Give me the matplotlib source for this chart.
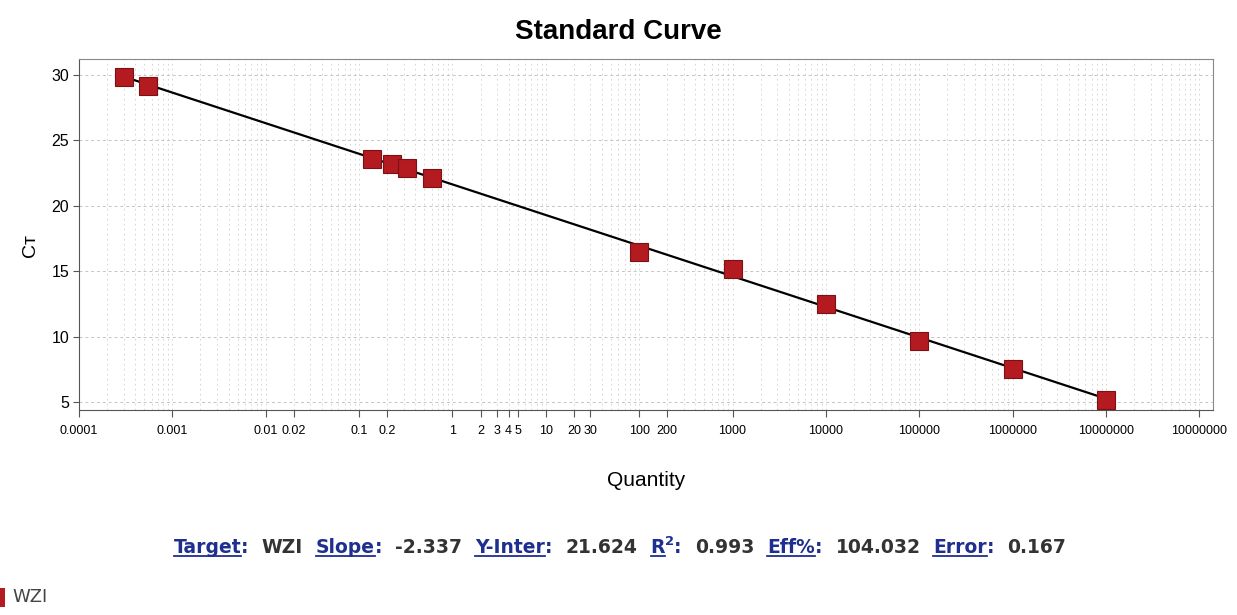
import numpy as np
import matplotlib
matplotlib.use("Agg")
import matplotlib.pyplot as plt
from matplotlib.ticker import FixedLocator, FixedFormatter, LogLocator, NullFormatter
from matplotlib.lines import Line2D

# ---- data ----
quantity = [0.0003, 0.00055, 0.136, 0.223, 0.33, 0.61, 100, 1000, 10000, 100000, 1000000, 10000000]
ct = [29.85, 29.15, 23.6, 23.15, 22.85, 22.15, 16.5, 15.15, 12.5, 9.7, 7.55, 5.2]

tick_pos = [1e-4, 1e-3, 0.01, 0.02, 0.1, 0.2, 1, 2, 3, 4, 5, 10, 20, 30, 100, 200,
            1e3, 1e4, 1e5, 1e6, 1e7, 1e8]
tick_lab = ["0.0001", "0.001", "0.01", "0.02", "0.1", "0.2", "1", "2", "3", "4", "5",
            "10", "20", "30", "100", "200", "1000", "10000", "100000", "1000000",
            "10000000", "10000000"]

target = "WZI"
slope = -2.337
y_inter = 21.624
r2 = 0.993
eff = 104.032
err = 0.167

W, H = 1237, 615
fig = plt.figure(figsize=(W / 100, H / 100), dpi=100)
ax = fig.add_axes([79 / W, 1 - 410 / H, (1213 - 79) / W, (410 - 59) / H])

# fit line from the reported slope / intercept
xl = np.array([min(quantity), max(quantity)])
ax.plot(xl, y_inter + slope * np.log10(xl), color="black", lw=1.6, zorder=3)
ax.plot(quantity, ct, linestyle="none", marker="s", markersize=12.5,
        markerfacecolor="#b31b20", markeredgecolor="#7d1014", markeredgewidth=0.8, zorder=4)

ax.set_xscale("log")
ax.set_xlim(1e-4, 1.4e8)
ax.set_ylim(4.4, 31.2)

ax.xaxis.set_major_locator(FixedLocator(tick_pos))
ax.xaxis.set_major_formatter(FixedFormatter(tick_lab))
ax.xaxis.set_minor_locator(LogLocator(base=10, subs=np.arange(2, 10), numticks=30))
ax.xaxis.set_minor_formatter(NullFormatter())
ax.set_yticks([5, 10, 15, 20, 25, 30])

tickfont = ["Liberation Sans Narrow", "Liberation Sans"]
for lab in ax.get_xticklabels():
    lab.set_family(tickfont)
    lab.set_fontsize(9)
for lab in ax.get_yticklabels():
    lab.set_family("Liberation Sans")
    lab.set_fontsize(11.5)
ax.tick_params(axis="x", which="major", length=5, width=0.8, color="#555555", pad=6)
ax.tick_params(axis="x", which="minor", length=0)
ax.tick_params(axis="y", length=4, width=0.8, color="#555555", pad=3)

ax.grid(True, axis="x", which="both", color="#cfcfcf", linestyle=(0, (2, 4)), lw=0.6)
ax.grid(True, axis="y", which="major", color="#c4c4c4", linestyle=(0, (3, 3)), lw=0.7)
ax.set_axisbelow(True)
for sp in ax.spines.values():
    sp.set_color("#888888")
    sp.set_linewidth(0.8)
ax.spines["bottom"].set_color("#555555")
ax.spines["left"].set_color("#555555")

fig.text(0.5, 1 - 32 / H, "Standard Curve", ha="center", va="center",
         fontsize=20, fontweight="bold", family="Liberation Sans")
fig.text(646 / W, 1 - 480 / H, "Quantity", ha="center", va="center",
         fontsize=15, family=tickfont)
fig.text(30 / W, 1 - 245 / H, "Cᴛ", ha="center", va="center", rotation=90,
         fontsize=14, family=["Liberation Sans", "DejaVu Sans"])

# ---- stats line with underlined blue labels ----
renderer = fig.canvas.get_renderer()
blue = "#1f2f8f"
dark = "#333333"
fs = 13.5
parts = [("Target", "lab"), (":  ", "colon"), (target, "val"), ("  ", "gap"),
         ("Slope", "lab"), (":  ", "colon"), (f"{slope:.3f}", "val"), ("  ", "gap"),
         ("Y-Inter", "lab"), (":  ", "colon"), (f"{y_inter:.3f}", "val"), ("  ", "gap"),
         ("R", "lab"), ("2", "sup"), (":  ", "colon"), (f"{r2:.3f}", "val"), ("  ", "gap"),
         ("Eff%", "lab"), (":  ", "colon"), (f"{eff:.3f}", "val"), ("  ", "gap"),
         ("Error", "lab"), (":  ", "colon"), (f"{err:.3f}", "val")]


def place(x, y, s, kind):
    size = fs * 0.7 if kind == "sup" else fs
    dy = 8 if kind == "sup" else 0
    color = dark if kind in ("val", "gap") else blue
    t = fig.text(x / W, 1 - (y - dy) / H, s, ha="left", va="baseline",
                 fontsize=size, fontweight="bold", color=color, family="DejaVu Sans")
    bb = t.get_window_extent(renderer)
    return t, bb.width


# measure total width first
widths = []
for s, k in parts:
    t, w = place(0, -100, s, k)
    widths.append(w)
    t.remove()
total = sum(widths)
x = 620 - total / 2
base = 553
for (s, k), w in zip(parts, widths):
    place(x, base, s, k)
    if k == "lab":
        fig.add_artist(Line2D([x / W, (x + w) / W], [1 - (base + 3) / H] * 2,
                              transform=fig.transFigure, color=blue, lw=1.3))
    x += w

# ---- legend entry at the bottom left ----
fig.patches.append(plt.Rectangle((0, 1 - 607 / H), 5 / W, 19 / H, transform=fig.transFigure,
                                 facecolor="#b31b20", edgecolor="none"))
fig.text(12 / W, 1 - 597 / H, target, ha="left", va="center", fontsize=13,
         color="#444444", family="DejaVu Sans")

fig.savefig("out.png", dpi=100)
